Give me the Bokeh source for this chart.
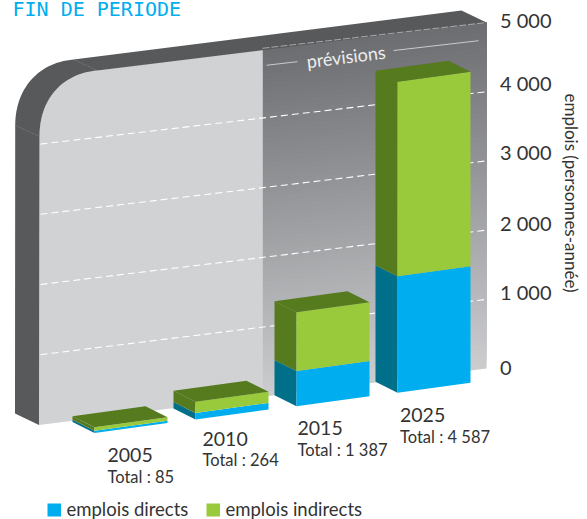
from bokeh.plotting import figure
from bokeh.embed import file_html
from bokeh.resources import INLINE
from bokeh.core.properties import value
from bokeh.models import Range1d

# ---- data ----
years = ["2005", "2010", "2015", "2025"]
totals_txt = ["Total : 85", "Total : 264", "Total : 1 387", "Total : 4 587"]
direct = [32, 99, 520, 1718]
indirect = [53, 165, 867, 2869]
tick_values = [0, 1000, 2000, 3000, 4000, 5000]
tick_labels = ["0", "1 000", "2 000", "3 000", "4 000", "5 000"]

# ---- label placement ----
tick_label_y = [367, 291, 222, 151, 82, 19]
year_x = [107, 202, 297, 399.5]
year_y = [454, 438, 427, 414]
total_y = [476, 459, 449, 436]

# ---- colours ----
BLUE, BLUE_D = "#00aeef", "#00708a"
GREEN, GREEN_D = "#99ca3c", "#567a1e"
DARK, LIGHT = "#58595b", "#d1d2d4"
TXT = "#333333"
FONT = "Lato"

W, H = 587, 519
p = figure(width=W, height=H, output_backend="svg", toolbar_location=None,
           x_range=Range1d(0, W), y_range=Range1d(H, 0), min_border=0)
p.axis.visible = False
p.grid.visible = False
p.outline_line_color = None
p.background_fill_color = "white"
p.border_fill_color = "white"

# ---- projection of the wall plane ----
XL, XR, XM = 39.0, 486.0, 262.0
def wall_y(x, v):
    t = (x - XL) / (XR - XL)
    base = 424.5 + (368 - 424.5) * t
    k = 0.0702 + (0.0692 - 0.0702) * t
    return base - v * k

def bez(p0, p1, p2, p3, n=30):
    out = []
    for j in range(n + 1):
        t = j / n
        a, b, c, d = (1-t)**3, 3*t*(1-t)**2, 3*t*t*(1-t), t**3
        out.append((a*p0[0]+b*p1[0]+c*p2[0]+d*p3[0], a*p0[1]+b*p1[1]+c*p2[1]+d*p3[1]))
    return out

outer = bez((14.7, 125), (14.7, 88), (38, 62), (73, 59))
inner = bez((39, 136), (39, 98), (62, 73), (97, 70))

def poly(pts, color):
    p.patch([q[0] for q in pts], [q[1] for q in pts], fill_color=color, line_color=None)

# right panel gradient, painted bottom-up so no seams show
top_c, bot_c = (0x6c, 0x6d, 0x71), (0xcc, 0xcd, 0xcf)
N = 70
for j in range(N):
    v0 = 5000 * j / N
    f = (j + 0.5) / N
    c = tuple(round(bot_c[m] + (top_c[m] - bot_c[m]) * f) for m in range(3))
    poly([(XM, wall_y(XM, v0)), (XR, wall_y(XR, v0)),
          (XR, wall_y(XR, 5000)), (XM, wall_y(XM, 5000))], "#%02x%02x%02x" % c)

# left panel (with the rounded corner)
poly(inner + [(XM + 0.3, wall_y(XM, 5000)), (XM + 0.3, wall_y(XM, 0)), (38.5, 424.5)], LIGHT)

# dark edge of the wall
poly(list(reversed(inner)) + [(38.5, 424.5), (14.5, 413)] + outer +
     [(461, 10), (XR, wall_y(XR, 5000)), (97, 70)], DARK)
for a, b in [((15, 125), (39, 136)), ((73, 59), (97, 70))]:
    p.line([a[0], b[0]], [a[1], b[1]], line_color="#9a9b9d", line_width=0.6, line_dash="1 1")

# grid lines
for v in tick_values[1:-1]:
    p.line([XL + 1, XR - 1], [wall_y(XL + 1, v), wall_y(XR - 1, v)],
           line_color="white", line_width=1.1, line_dash="7 4")
p.line([XM, XR], [wall_y(XM, 5000), wall_y(XR, 5000)],
       line_color="#c8c9cb", line_width=0.7, line_dash="7 2")

# "prévisions" bracket
for x0, x1 in [(266, 297), (393, 478)]:
    p.line([x0, x1], [wall_y(x0, 4750), wall_y(x1, 4750)],
           line_color="#c9cacc", line_width=1.0)
p.text(x=[345.5], y=[56], text=["prévisions"], angle=[0.122], text_align="center",
       text_baseline="middle", text_font=value(FONT), text_font_size="18px",
       text_color="#eeeeee")

# ---- bars ----
BW, BD, DX, DY, KV = 73.0, 10.0, -22.0, -11.0, 0.0678
def bar(i, d, n):
    fx = 94 + 101 * i
    by = 432.5 - 13.4 * i
    h1, h2 = d * KV, (d + n) * KV
    FL = lambda h: (fx, by - h)
    FR = lambda h: (fx + BW, by - BD - h)
    BL = lambda h: (fx + DX, by + DY - h)
    BR = lambda h: (fx + BW + DX, by - BD + DY - h)
    poly([BL(0), FL(0), FL(h1), BL(h1)], BLUE_D)
    poly([BL(h1), FL(h1), FL(h2), BL(h2)], GREEN_D)
    poly([FL(0), FR(0), FR(h1), FL(h1)], BLUE)
    poly([FL(h1), FR(h1), FR(h2), FL(h2)], GREEN)
    poly([FL(h2), FR(h2), BR(h2), BL(h2)], GREEN_D)

for i, (d, n) in enumerate(zip(direct, indirect)):
    bar(i, d, n)

p.text(x=year_x, y=year_y, text=years, text_baseline="middle",
       text_font=value(FONT), text_font_size="19.5px", text_color=TXT)
p.text(x=year_x, y=total_y, text=totals_txt, text_baseline="middle",
       text_font=value(FONT), text_font_size="16.5px", text_color=TXT)

# ---- value labels ----
p.text(x=[499.5] * len(tick_labels), y=tick_label_y, text=tick_labels,
       text_baseline="middle", text_font=value(FONT), text_font_size="20px", text_color=TXT)
p.text(x=[571], y=[192.5], text=["emplois (personnes-année)"], angle=[-1.5708],
       text_align="center", text_baseline="middle", text_font=value(FONT),
       text_font_size="17px", text_color=TXT)

# ---- title ----
p.text(x=[12], y=[8.5], text=["FIN DE PERIODE"], text_baseline="alphabetic",
       text_font=value("DejaVu Sans Mono"), text_font_size="20px", text_color=BLUE)

# ---- legend ----
for x0, c, lab in [(47, BLUE, "emplois directs"), (206, GREEN, "emplois indirects")]:
    p.patch([x0, x0 + 13.5, x0 + 13.5, x0], [503, 503, 516, 516], fill_color=c, line_color=None)
    p.text(x=[x0 + 19], y=[508], text=[lab], text_baseline="middle",
           text_font=value(FONT), text_font_size="18.5px", text_color=TXT)

open("out.html", "w").write(file_html(p, INLINE))
